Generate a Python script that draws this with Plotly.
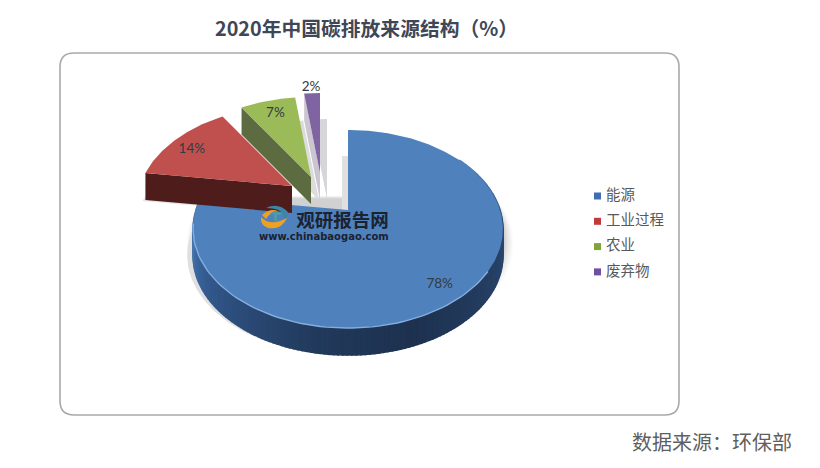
import numpy as np
import plotly.graph_objects as go

# ---- data ----
categories = ["能源", "工业过程", "农业", "废弃物"]
values = [78, 14, 7, 2]
title_text = "2020年中国碳排放来源结构（%）"
source_text = "数据来源：环保部"

# ---- style / geometry ----
top_colors = ["#4f81bd", "#c0504d", "#9bbb59", "#8064a2"]
face_colors = ["#2a4a75", "#4e1d1b", "#5d6b40", "#c9c6d0"]
legend_colors = ["#3f6fb0", "#c0393b", "#7fa53a", "#6f4fa0"]
apex = [(348, 210), (292, 186), (311, 177), (320, 173)]
label_frac = [0.85, 0.8, 0.85, 1.15]
label_nudge = [(-5, 5), (-6, 2), (2, 3), (0, 4)]
RX, RY, K, DEPTH = 152, 95.4, 0.192, 27
FONT = "Noto Sans CJK SC"
PAGE_INSET = 8  # the page body margin

shares = np.array(values) / sum(values) * 360
edges = np.concatenate([[0], np.cumsum(shares)])


def project(i, deg, f=1.0):
    t = np.radians(deg)
    u, v = f * np.sin(t), f * np.cos(t)
    d = 1 + K * v
    return apex[i][0] + RX * u / d, apex[i][1] - RY * v / d


def wedge(i):
    a = np.linspace(edges[i], edges[i + 1], max(12, int(shares[i])))
    x, y = project(i, a)
    return np.r_[apex[i][0], x, apex[i][0]], np.r_[apex[i][1], y, apex[i][1]]


def mix(c1, c2, t):
    a = [int(c1[j:j + 2], 16) for j in (1, 3, 5)]
    b = [int(c2[j:j + 2], 16) for j in (1, 3, 5)]
    return "rgb(%d,%d,%d)" % tuple(a[j] + (b[j] - a[j]) * t for j in range(3))


fig = go.Figure()


def poly(x, y, color, opacity=1.0, line=0):
    fig.add_trace(go.Scatter(
        x=list(x), y=list(y), mode="lines", fill="toself", fillcolor=color,
        line=dict(color=color, width=line), opacity=opacity,
        hoverinfo="skip", showlegend=False))


# soft shadow below the big slice (lower arc only)
low = np.linspace(75, 285, 90)
bx, by = project(0, low)
for grow, dy, op in [(1.055, 15, .03), (1.045, 14, .04), (1.035, 13, .05), (1.025, 12, .06), (1.015, 11, .08), (1.005, 10, .10)]:
    poly(350 + (bx - 348) * grow, 229 + dy + (by - 229) * grow, "#707070", op)

# slice shadows
for i, (sx, sy, sc) in enumerate([(-6, 26, "#e0e0e0"), (-3, 28, "#e6e6e6"), (8, 23, "#dcdcdc"), (7, 26, "#d6d6da")]):
    x, y = wedge(i)
    poly(x + sx, y + sy, sc)

# blue outer rim, shaded by segment
rim = np.linspace(0, edges[1], 200)
stops = [(60, "#5081bb"), (95, "#2c4a73"), (160, "#1e3250"), (190, "#223a5c"),
         (235, "#33598d"), (265, "#4a7ab2"), (280, "#3f6ca6")]
sd = [s[0] for s in stops]
for a0, a1 in zip(rim[:-1], rim[1:]):
    if a1 < 55:
        continue
    x0, y0 = project(0, a0)
    x1, y1 = project(0, a1)
    m = (a0 + a1) / 2
    j = min(max(np.searchsorted(sd, m), 1), len(sd) - 1)
    t = np.clip((m - sd[j - 1]) / (sd[j] - sd[j - 1]), 0, 1)
    poly([x0, x1, x1, x0, x0], [y0, y1, y1 + DEPTH, y0 + DEPTH, y0], mix(stops[j - 1][1], stops[j][1], t), line=1.5)

# blue top face
x, y = wedge(0)
poly(x, y, top_colors[0])
ax = np.linspace(125, 262, 70)
hx, hy = project(0, ax)
fig.add_trace(go.Scatter(x=hx, y=hy, mode="lines", line=dict(color="#86aedd", width=1.4),
                         hoverinfo="skip", showlegend=False))

# exploded slices: purple, green, red
for i, edge_idx in [(3, 3), (2, 2), (1, 1)]:
    ex, ey = project(i, edges[edge_idx])
    ap = apex[i]
    poly([ap[0], ex, ex, ap[0], ap[0]], [ap[1], ey, ey + DEPTH, ap[1] + DEPTH, ap[1]], face_colors[i])
    x, y = wedge(i)
    poly(x, y, top_colors[i])

# data labels
for i, v in enumerate(values):
    lx, ly = project(i, (edges[i] + edges[i + 1]) / 2, label_frac[i])
    fig.add_trace(go.Scatter(x=[lx + label_nudge[i][0]], y=[ly + label_nudge[i][1]], mode="text", text=[f"{v}%"],
                             textfont=dict(family="Lato", size=13.5, color="#333a42"),
                             hoverinfo="skip", showlegend=False))

# legend
legend_x, legend_y0, legend_dy = 597.5, 196, 25.3
for i, c in enumerate(categories):
    fig.add_trace(go.Scatter(x=[legend_x], y=[legend_y0 + i * legend_dy], mode="markers+text",
                             marker=dict(symbol="square", size=7, color=legend_colors[i]),
                             text=[" " + c], textposition="middle right",
                             textfont=dict(family=FONT, size=14.5, color="#595959"),
                             hoverinfo="skip", showlegend=False))

panel = "M 74 53 H 665 Q 679 53 679 67 V 401 Q 679 415 665 415 H 74 Q 60 415 60 401 V 67 Q 60 53 74 53 Z"
shapes = [
    dict(type="path", path=panel, line=dict(color="#a9a9a9", width=1.6), layer="below"),
    dict(type="path", path="M 261 217 Q 270 227 287 218 Q 282 230 268 228 Q 260 225 261 217 Z",
         fillcolor="#f0a020", line=dict(width=0)),
    dict(type="path", path="M 262 215 Q 270 208 278 211 Q 270 212 266 219 Z",
         fillcolor="#f0a020", line=dict(width=0)),
    dict(type="path", path="M 266 208 Q 278 202 288 212 Q 288 218 284 219 Q 284 208 266 208 Z",
         fillcolor="#3d86a8", line=dict(width=0)),
    dict(type="path", path="M 270 213 Q 276 209 282 213 L 280 215 L 277 215 L 277 221 L 274 221 L 274 215 Z",
         fillcolor="#4f9aa8", line=dict(width=0)),
]
watermark = ("<span style=\"font-family:'%s';font-size:18.5px\"><b>观研报告网</b></span>"
             "<br><b>www.chinabaogao.com</b>" % FONT)
annotations = [
    dict(x=366, y=27, text=f"<b>{title_text}</b>", showarrow=False,
         font=dict(family=FONT, size=19.8, color="#3f4757")),
    dict(x=711.5, y=441, text=source_text, showarrow=False,
         font=dict(family=FONT, size=20, color="#5f5f5f")),
    dict(x=391, y=224, xanchor="right", align="right", text=watermark, showarrow=False,
         font=dict(family="DejaVu Sans", size=10, color="#1b2230")),
]
fig.update_layout(
    width=820 - PAGE_INSET, height=468 - PAGE_INSET, margin=dict(l=0, r=0, t=0, b=0),
    paper_bgcolor="white", plot_bgcolor="white", showlegend=False,
    xaxis=dict(range=[PAGE_INSET, 820], visible=False, fixedrange=True),
    yaxis=dict(range=[468, PAGE_INSET], visible=False, fixedrange=True),
    shapes=shapes, annotations=annotations)
fig.write_html("out.html", config=dict(displayModeBar=False))
